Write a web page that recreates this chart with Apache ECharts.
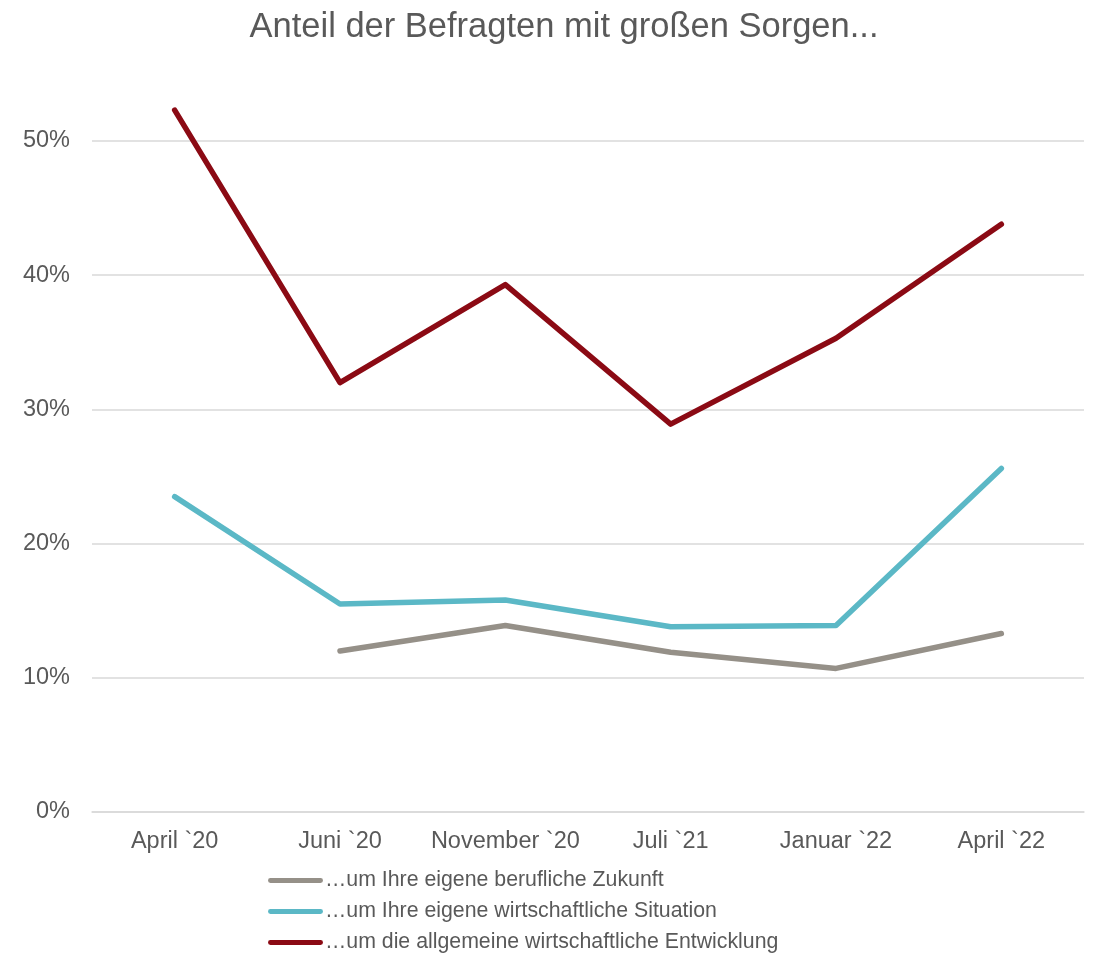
<!DOCTYPE html>
<html><head><meta charset="utf-8">
<script src="https://cdn.jsdelivr.net/npm/echarts@6/dist/echarts.min.js"></script>
<style>html,body{margin:0;padding:0;background:#fff}#c{width:1094px;height:954px}</style>
</head><body><div id="c"></div>
<script>
const categories = ["April `20", "Juni `20", "November `20", "Juli `21", "Januar `22", "April `22"];
const berufZukunft = [null, 12.0, 13.9, 11.9, 10.7, 13.3];
const eigeneSituation = [23.5, 15.5, 15.8, 13.8, 13.9, 25.6];
const allgEntwicklung = [52.3, 32.0, 39.3, 28.9, 35.3, 43.8];
const seriesNames = ["…um Ihre eigene berufliche Zukunft", "…um Ihre eigene wirtschaftliche Situation", "…um die allgemeine wirtschaftliche Entwicklung"];
const colors = ["#959088", "#5bb8c6", "#8b0a14"];
const font = "Liberation Sans, Arial, sans-serif";
const chart = echarts.init(document.getElementById('c'));
const mk = (name, data, color) => ({
  name, type: 'line', data, symbol: 'none', connectNulls: false, clip: false,
  lineStyle: { width: 5.5, color, cap: 'round', join: 'round' }, itemStyle: { color }
});
chart.setOption({
  animation: false,
  title: { text: "Anteil der Befragten mit großen Sorgen...", left: 559, textAlign: 'center', top: 5,
    textStyle: { fontFamily: font, fontSize: 34.5, fontWeight: 'normal', color: '#595959' } },
  grid: { left: 92, right: 10, top: 141, bottom: 142, containLabel: false },
  xAxis: { type: 'category', data: categories, boundaryGap: true,
    axisLine: { lineStyle: { color: '#d9d9d9', width: 1.5 } }, axisTick: { show: false },
    axisLabel: { interval: 0, fontFamily: font, fontSize: 23.5, color: '#595959', margin: 18 } },
  yAxis: { type: 'value', min: 0, max: 50, interval: 10,
    axisLabel: { fontFamily: font, fontSize: 23.5, color: '#595959', margin: 22, padding: [3, 0, 0, 0], formatter: v => v + '%' },
    splitLine: { lineStyle: { color: '#d9d9d9', width: 1.5 } }, axisLine: { show: false }, axisTick: { show: false } },
  legend: { orient: 'vertical', left: 268, top: 870, height: 200, width: 700, padding: 0, itemWidth: 55, itemHeight: 20, itemGap: 10,
    data: seriesNames.map(n => ({ name: n, icon: 'path://M2,7.5 L53,7.5 A2.5,2.5 0 0 1 53,12.5 L2,12.5 A2.5,2.5 0 0 1 2,7.5 Z' })),
    textStyle: { fontFamily: font, fontSize: 21.3, color: '#595959', lineHeight: 20, padding: [0, 0, 0, -3] } },
  series: [
    mk(seriesNames[0], berufZukunft, colors[0]),
    mk(seriesNames[1], eigeneSituation, colors[1]),
    mk(seriesNames[2], allgEntwicklung, colors[2])
  ]
});
</script></body></html>
